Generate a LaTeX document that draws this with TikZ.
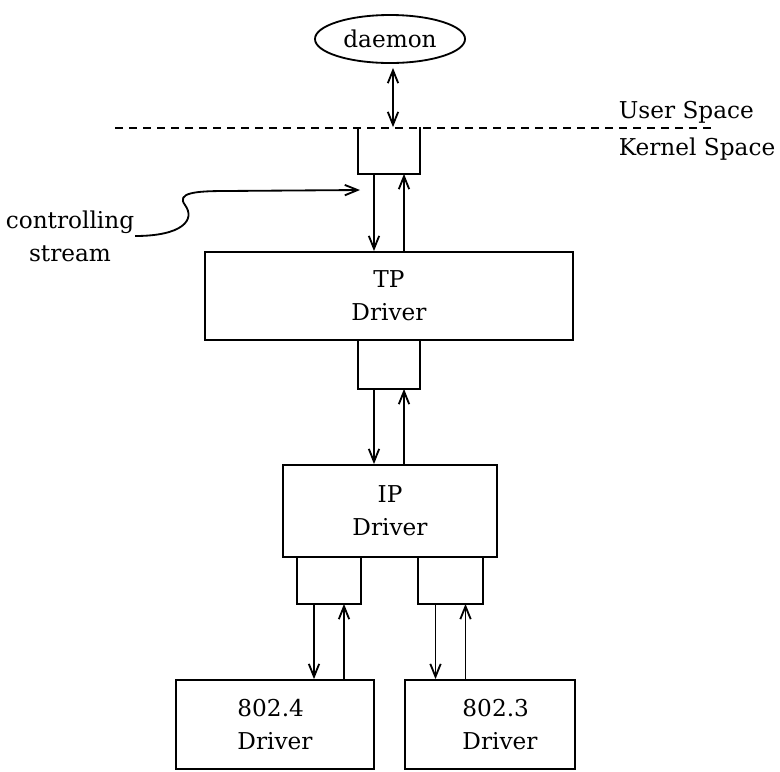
\documentclass[tikz,border=0pt]{standalone}
\usepackage{amsmath}
\usepackage{amssymb}
\usepackage{fontspec}
\setmainfont{DejaVu Serif}
\usetikzlibrary{arrows.meta,shapes.geometric}

\begin{document}
\begin{tikzpicture}[x=0.025cm,y=-0.025cm,line width=1.3pt,
  font=\fontsize{16.5}{23.5}\selectfont,
  lbl/.style={inner sep=0pt},
  box/.style={draw,rectangle,inner sep=0pt,align=center},
  head/.style={rectangle,inner sep=0pt,minimum width=1.5cm,minimum height=1.15cm},
  flow/.style={-{Straight Barb[length=0.32cm,width=0.26cm]}},
  bothflow/.style={{Straight Barb[length=0.32cm,width=0.26cm]}-{Straight Barb[length=0.32cm,width=0.26cm]}}]
\useasboundingbox (0,0) rectangle (780,771);
\node[draw,ellipse,inner sep=0pt,minimum width=3.75cm,minimum height=1.2cm] (daemon) at (390,39) {daemon};
\coordinate (ul) at (115,128);
\coordinate (ur) at (712,128);
\draw[dash pattern=on 0.2cm off 0.15cm] (ul) -- (ur);
\node[lbl,anchor=west] (user) at (618,112) {User Space};
\node[lbl,anchor=west] (kernel) at (618,149) {Kernel Space};
\node[head,minimum height=1.125cm] (h1) at (389,150.5) {};
\draw (h1.north west) |- (h1.south east) -- (h1.north east);
\node[box,minimum width=9.2cm,minimum height=2.2cm] (tp) at (389,296) {TP\\Driver};
\node[head,minimum height=1.2cm] (h2) at (389,364) {};
\draw (h2.north west) |- (h2.south east) -- (h2.north east);
\node[box,minimum width=5.35cm,minimum height=2.3cm] (ip) at (390,511) {IP\\Driver};
\node[head,minimum width=1.55cm] (h3) at (329,580) {};
\draw (h3.north west) |- (h3.south east) -- (h3.north east);
\node[head,minimum width=1.575cm] (h4) at (450.5,580) {};
\draw (h4.north west) |- (h4.south east) -- (h4.north east);
\node[box,align=left,minimum width=4.95cm,minimum height=2.225cm] (eth4) at (275,724.5) {802.4\\Driver};
\node[box,align=left,minimum width=4.25cm,minimum height=2.225cm] (eth3) at (490,724.5) {\hspace*{0.5cm}802.3\\\hspace*{0.5cm}Driver};
\node[lbl,align=center] (ctl) at (70,236) {controlling\\stream};
\coordinate (ctltip) at (360,190);
\coordinate (d1) at ([xshift=-0.375cm]h1.south);
\coordinate (u1) at ([xshift=0.375cm]h1.south);
\coordinate (d2) at ([xshift=-0.375cm]h2.south);
\coordinate (u2) at ([xshift=0.375cm]h2.south);
\coordinate (d3) at ([xshift=-0.375cm]h3.south);
\coordinate (u3) at ([xshift=0.375cm]h3.south);
\coordinate (d4) at ([xshift=-0.375cm]h4.south);
\coordinate (u4) at ([xshift=0.375cm]h4.south);
\draw[bothflow,shorten <=0.1cm] ([xshift=0.075cm]daemon.south) -- ([xshift=0.075cm]daemon.south |- h1.north);
\draw[flow] (d1) -- (d1 |- tp.north);
\draw[flow] (u1 |- tp.north) -- (u1);
\draw[flow] (d2) -- (d2 |- ip.north);
\draw[flow] (u2 |- ip.north) -- (u2);
\draw[flow] (d3) -- (d3 |- eth4.north);
\draw[flow] (u3 |- eth4.north) -- (u3);
\draw[flow] (d4) -- (d4 |- eth3.north);
\draw[flow] (u4 |- eth3.north) -- (u4);
\draw[flow] (ctl.east) .. controls (182,236) and (196,220) .. (185,205) .. controls (176,193) and (195,191) .. (225,191) -- (ctltip);
\end{tikzpicture}
\end{document}
